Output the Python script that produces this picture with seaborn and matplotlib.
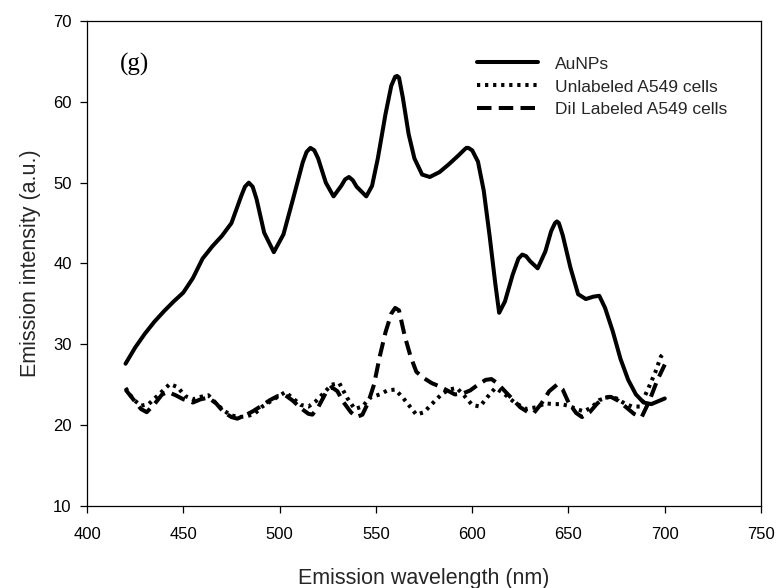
import matplotlib
matplotlib.use("Agg")
import matplotlib.pyplot as plt
import pandas as pd
import seaborn as sns

# Emission spectra (wavelength in nm, intensity in a.u.)
au_nm = [420, 425, 430, 435, 440, 445, 450, 455, 460, 465, 470, 475, 480, 482, 484,
         486, 488, 492, 497, 502, 507, 512, 514, 516, 518, 520, 524, 528, 532, 534, 536, 538, 540, 545,
         548, 551, 555, 558, 560, 561, 562, 564, 567, 570, 574, 578, 583, 588, 593, 596, 597, 598,
         600, 603, 606, 609, 612, 614, 617, 621, 624, 626, 628, 630, 634, 638, 641, 643, 644, 645,
         647, 651, 655, 659, 663, 666, 669, 673, 677, 681, 685, 689, 693, 697, 700]
au_val = [27.6, 29.6, 31.3, 32.8, 34.1, 35.3, 36.4, 38.2, 40.6, 42.1, 43.4, 45.0, 48.3, 49.5, 50.0,
          49.5, 48.0, 43.8, 41.4, 43.6, 48.0, 52.5, 53.8, 54.3, 54.0, 53.0, 50.0, 48.3, 49.6, 50.4, 50.7, 50.3, 49.5, 48.3,
          49.6, 53.0, 58.5, 62.0, 63.1, 63.2, 63.0, 60.5, 56.0, 53.0, 51.0, 50.7, 51.3, 52.3, 53.4, 54.1, 54.3, 54.3,
          54.0, 52.6, 49.0, 43.5, 37.5, 33.9, 35.3, 38.6, 40.6, 41.1, 40.9, 40.3, 39.4, 41.5, 44.0, 45.0, 45.2, 45.0,
          43.5, 39.5, 36.2, 35.6, 35.9, 36.0, 34.5, 31.6, 28.2, 25.6, 23.8, 22.8, 22.6, 23.0, 23.3]

unl_nm = [420, 424, 428, 432, 436, 440, 443, 447, 451, 455, 459, 463, 467, 471,
          475, 479, 483, 487, 491, 495, 499, 503, 507, 511, 515, 519, 523, 527,
          531, 535, 539, 543, 547, 552, 556, 560, 564, 568, 571, 575, 579, 584,
          588, 592, 596, 600, 604, 608, 612, 616, 622, 628, 633, 638, 642, 646,
          650, 654, 658, 662, 666, 671, 675, 679, 683, 687, 691, 695, 698, 700]
unl_val = [24.6, 23.2, 22.4, 22.6, 23.5, 24.4, 25.1, 24.7, 23.6, 23.2, 23.5, 23.7, 22.7, 21.8,
           21.2, 21.0, 21.1, 21.4, 22.3, 22.9, 23.5, 24.1, 23.3, 22.5, 22.3, 23.0, 24.0, 25.0,
           25.2, 23.4, 22.0, 22.3, 23.4, 23.8, 24.3, 24.4, 23.4, 22.2, 21.3, 21.6, 22.6, 23.8,
           24.4, 24.6, 23.6, 22.5, 22.3, 23.5, 24.6, 24.0, 22.8, 22.0, 22.2, 22.7, 22.6, 22.6,
           22.4, 22.0, 21.7, 22.2, 23.1, 23.5, 23.3, 22.7, 22.3, 22.3, 24.3, 26.5, 28.5, 29.0]

dil_nm = [420, 424, 428, 431, 435, 439, 442, 446, 450, 455, 459, 463, 467, 471,
          475, 478, 482, 486, 490, 495, 499, 503, 507, 511, 515, 517, 520, 524,
          527, 530, 533, 537, 540, 543, 546, 549, 552, 555, 558, 560, 562, 565,
          568, 571, 575, 579, 583, 587, 591, 595, 599, 603, 607, 610, 613, 617,
          621, 625, 629, 632, 636, 640, 644, 647, 650, 654, 657, 661, 665, 669,
          672, 676, 680, 684, 688, 692, 696, 700]
dil_val = [24.4, 23.2, 22.0, 21.6, 22.6, 23.8, 24.1, 23.7, 23.2, 22.8, 23.2, 23.4, 22.7, 21.6,
           21.0, 20.8, 21.2, 21.7, 22.3, 23.1, 23.6, 23.7, 23.0, 22.1, 21.4, 21.3, 22.2, 24.0,
           24.7, 24.2, 22.9, 21.6, 21.0, 21.3, 22.8, 25.0, 28.5, 31.5, 33.8, 34.5, 34.2, 31.0,
           28.5, 26.6, 25.8, 25.2, 24.8, 24.3, 23.8, 23.9, 24.3, 25.0, 25.6, 25.7, 25.2, 24.2,
           23.2, 22.2, 21.6, 21.5, 22.7, 24.2, 25.0, 24.4, 22.8, 21.5, 21.0, 21.6, 22.7, 23.4,
           23.5, 23.0, 22.2, 21.4, 21.0, 23.0, 25.5, 27.5]

series_names = ["AuNPs", "Unlabeled A549 cells", "DiI Labeled A549 cells"]
x_ticks = [400, 450, 500, 550, 600, 650, 700, 750]
y_ticks = [10, 20, 30, 40, 50, 60, 70]

df = pd.concat([
    pd.DataFrame({"wavelength": au_nm, "intensity": au_val, "sample": series_names[0]}),
    pd.DataFrame({"wavelength": unl_nm, "intensity": unl_val, "sample": series_names[1]}),
    pd.DataFrame({"wavelength": dil_nm, "intensity": dil_val, "sample": series_names[2]}),
], ignore_index=True)

sns.set_theme(style="ticks")
plt.rcParams["font.family"] = ["Liberation Sans", "DejaVu Sans"]

fig = plt.figure(figsize=(7.79, 5.88), dpi=100)
ax = fig.add_axes([0.1117, 0.1395, 0.8653, 0.8248])

styles = {
    series_names[0]: "",
    series_names[1]: (0.8, 1.2),
    series_names[2]: (3.6, 1.8),
}
sns.lineplot(data=df, x="wavelength", y="intensity", hue="sample", style="sample",
             hue_order=series_names, style_order=series_names,
             palette=["black"] * 3, dashes=styles, estimator=None, sort=True,
             linewidth=2.9, ax=ax)
for ln in ax.get_lines():
    ln.set_dash_capstyle("butt")
    ln.set_solid_joinstyle("round")
    ln.set_dash_joinstyle("round")

ax.set_xlim(400, 750)
ax.set_ylim(10, 70)
ax.set_xticks(x_ticks)
ax.set_yticks(y_ticks)
ax.tick_params(direction="out", length=5, width=0.9, colors="black",
               labelsize=12, top=False, right=False)
ax.tick_params(axis="x", pad=10)
ax.tick_params(axis="y", pad=6)
for sp in ax.spines.values():
    sp.set_visible(True)
    sp.set_color("black")
    sp.set_linewidth(0.9)

ax.set_xlabel("Emission wavelength (nm)", fontsize=15.5, labelpad=19)
ax.set_ylabel("Emission intensity (a.u.)", fontsize=15.5, labelpad=9)

ax.text(417, 64.6, "(g)", family=["Liberation Serif", "DejaVu Serif"], fontsize=18,
        va="center", ha="left", color="black")

handles, labels = ax.get_legend_handles_labels()
leg = ax.legend(handles, labels, loc="upper left", bbox_to_anchor=(0.579, 0.927),
                frameon=False, fontsize=12.5, handlelength=3.5, handletextpad=0.95,
                labelspacing=0.45, borderpad=0, borderaxespad=0)

fig.savefig("out.png", dpi=100, facecolor="white")
